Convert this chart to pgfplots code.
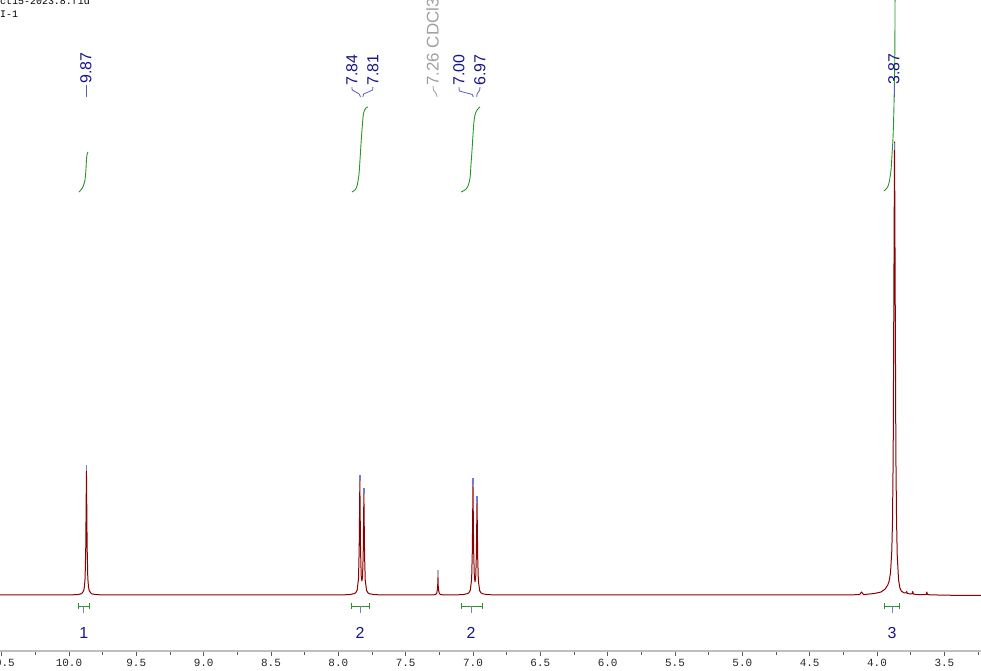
\documentclass[border=0pt]{standalone}
\usepackage{fontspec}
\setmainfont{Liberation Sans}
\setmonofont{Liberation Mono}
\usepackage{pgfplots}
\pgfplotsset{compat=1.18}
\definecolor{specred}{RGB}{139,0,0}
\definecolor{intgreen}{RGB}{40,150,40}
\definecolor{labblue}{RGB}{20,20,140}
\definecolor{conblue}{RGB}{90,90,190}
\definecolor{markblue}{RGB}{120,120,215}
\definecolor{cdgray}{RGB}{160,160,160}
\definecolor{axgray}{RGB}{190,190,190}
\begin{document}
\begin{tikzpicture}
\path[use as bounding box] (0,-20bp) rectangle (981bp,651bp);
\begin{axis}[
  scale only axis, width=981bp, height=651bp,
  at={(0,0)}, anchor=south west,
  x dir=reverse, xmin=3.228, xmax=10.512,
  ymin=-56, ymax=595,
  axis x line=bottom, axis y line=none,
  axis line style={draw=axgray, line width=1.2bp, -},
  xtick distance=0.5, minor x tick num=1,
  tick align=outside,
  major tick length=5bp, minor tick length=4bp,
  every tick/.style={black!65, line width=0.7bp},
  xticklabel={\pgfmathprintnumber[fixed,fixed zerofill,precision=1,assume math mode=true]{\tick}},
  xticklabel style={font=\fontsize{11}{11}\selectfont\ttfamily, text=black!85},
  clip mode=individual,
  every axis plot/.append style={line join=round},
]
% spectrum
\addplot[specred, line width=1bp] coordinates {
(10.512,0) (10.3,0.02) (10.07,0.05) (9.97,0.2) (9.93,0.55) (9.91,1.2) (9.90,2.2) (9.89,4.8) (9.885,8.2) (9.88,17.1) (9.875,48.4) (9.87,124) (9.865,48.4) (9.86,17.1) (9.855,8.2) (9.85,4.8) (9.84,2.2) (9.83,1.2) (9.81,0.55) (9.77,0.2) (9.67,0.05) (9.3,0.02) (8.6,0.02) (8.1,0.05)
(7.95,0.23) (7.91,0.52) (7.88,1.43) (7.87,2.4) (7.86,4.9) (7.85,16.4) (7.845,45.0) (7.84,113.7) (7.835,46.2) (7.83,19.2) (7.825,14.0) (7.82,18.0) (7.815,41.4) (7.81,101) (7.805,40.0) (7.80,14.8) (7.79,4.5) (7.78,2.2) (7.77,1.3) (7.74,0.5) (7.70,0.2) (7.55,0.05)
(7.30,0.1) (7.28,0.4) (7.27,1.5) (7.265,4.8) (7.262,9) (7.26,18) (7.258,9) (7.255,4.8) (7.25,1.5) (7.24,0.4) (7.22,0.1)
(7.11,0.2) (7.07,0.5) (7.04,1.4) (7.03,2.3) (7.02,4.7) (7.01,15.8) (7.005,43.3) (7.00,109.6) (6.995,44.4) (6.99,18.4) (6.985,13.3) (6.98,16.9) (6.975,38.6) (6.97,93.9) (6.965,37.3) (6.96,13.8) (6.95,4.2) (6.94,2.1) (6.93,1.3) (6.90,0.5) (6.86,0.2) (6.7,0.05)
(6.0,0.02) (5.0,0.02) (4.5,0.05) (4.2,0.2) (4.13,0.3) (4.115,3) (4.10,0.4)
(4.02,1.5) (3.97,3) (3.94,6) (3.92,10) (3.91,14) (3.90,22) (3.89,45) (3.885,75) (3.88,140) (3.875,300) (3.87,453) (3.865,300) (3.86,140) (3.855,75) (3.85,40) (3.84,15) (3.83,7) (3.82,4) (3.80,2.2) (3.785,2) (3.78,3.5) (3.775,1.6) (3.76,1.2) (3.74,1.2) (3.735,3.5) (3.73,0.9) (3.70,0.5) (3.66,0.3) (3.635,0.4) (3.63,3) (3.625,0.3) (3.55,0) (3.4,-0.4) (3.228,-0.5)
};
% integrals
\addplot[intgreen, line width=0.9bp, smooth] coordinates {
(9.926,403) (9.911,405) (9.896,408) (9.881,415) (9.874,425) (9.870,435) (9.866,440) (9.859,443)
};
\addplot[intgreen, line width=0.9bp, smooth] coordinates {
(7.899,403) (7.876,405) (7.861,409) (7.847,420) (7.839,435) (7.832,450) (7.824,465) (7.817,477) (7.810,483) (7.795,487) (7.780,488)
};
\addplot[intgreen, line width=0.9bp, smooth] coordinates {
(7.089,403) (7.059,405) (7.037,409) (7.022,417) (7.015,430) (7.007,445) (7.000,460) (6.993,473) (6.985,480) (6.970,485) (6.948,488)
};
\addplot[intgreen, line width=0.9bp, smooth] coordinates {
(3.948,404) (3.926,407) (3.911,412) (3.896,425) (3.889,440) (3.881,458) (3.874,490) (3.868,540) (3.866,600) (3.865,640)
};
% peak markers
\addplot[markblue, line width=1.6bp] coordinates {(9.87,124) (9.87,130)};
\addplot[markblue, line width=1.6bp] coordinates {(7.84,114) (7.84,120)};
\addplot[markblue, line width=1.6bp] coordinates {(7.81,101) (7.81,107)};
\addplot[cdgray!80, line width=1.6bp] coordinates {(7.26,18) (7.26,25)};
\addplot[markblue, line width=1.6bp] coordinates {(7.00,110) (7.00,117)};
\addplot[markblue, line width=1.6bp] coordinates {(6.97,93) (6.97,99)};
\addplot[markblue, line width=1.6bp] coordinates {(3.87,445) (3.87,452)};
% label connectors
\addplot[conblue, line width=0.8bp] coordinates {(9.87,510) (9.87,498)};
\addplot[conblue, line width=0.8bp] coordinates {(7.899,508) (7.897,505) (7.845,501) (7.835,498)};
\addplot[conblue, line width=0.8bp] coordinates {(7.743,508) (7.745,505) (7.812,501) (7.818,498)};
\addplot[cdgray, line width=0.8bp] coordinates {(7.297,509) (7.293,505) (7.272,501) (7.267,498)};
\addplot[conblue, line width=0.8bp] coordinates {(7.104,508) (7.102,504) (7.005,500.5) (6.998,498)};
\addplot[conblue, line width=0.8bp] coordinates {(6.948,508) (6.950,505) (6.970,501) (6.972,498)};
\addplot[conblue, line width=0.8bp] coordinates {(3.868,510) (3.868,498)};
% integral brackets
\addplot[intgreen, line width=0.9bp] coordinates {(9.933,-11) (9.851,-11)};
\addplot[intgreen, line width=0.9bp] coordinates {(9.933,-8) (9.933,-14)};
\addplot[intgreen, line width=0.9bp] coordinates {(9.851,-8) (9.851,-14)};
\addplot[markblue, line width=0.9bp] coordinates {(9.889,-11) (9.889,-18)};
\addplot[intgreen, line width=0.9bp] coordinates {(7.906,-11) (7.772,-11)};
\addplot[intgreen, line width=0.9bp] coordinates {(7.906,-8) (7.906,-14)};
\addplot[intgreen, line width=0.9bp] coordinates {(7.772,-8) (7.772,-14)};
\addplot[markblue, line width=0.9bp] coordinates {(7.839,-11) (7.839,-18)};
\addplot[intgreen, line width=0.9bp] coordinates {(7.089,-11) (6.933,-11)};
\addplot[intgreen, line width=0.9bp] coordinates {(7.089,-8) (7.089,-14)};
\addplot[intgreen, line width=0.9bp] coordinates {(6.933,-8) (6.933,-14)};
\addplot[markblue, line width=0.9bp] coordinates {(7.015,-11) (7.015,-18)};
\addplot[intgreen, line width=0.9bp] coordinates {(3.948,-11) (3.837,-11)};
\addplot[intgreen, line width=0.9bp] coordinates {(3.948,-8) (3.948,-14)};
\addplot[intgreen, line width=0.9bp] coordinates {(3.837,-8) (3.837,-14)};
\addplot[markblue, line width=0.9bp] coordinates {(3.889,-11) (3.889,-18)};
% integral values
\node[labblue, font=\fontsize{16}{16}\selectfont] at (axis cs:9.889,-38) {1};
\node[labblue, font=\fontsize{16}{16}\selectfont] at (axis cs:7.839,-38) {2};
\node[labblue, font=\fontsize{16}{16}\selectfont] at (axis cs:7.015,-38) {2};
\node[labblue, font=\fontsize{16}{16}\selectfont] at (axis cs:3.889,-38) {3};
% peak labels
\node[labblue, rotate=90, anchor=west, inner sep=0pt, font=\fontsize{16}{16}\selectfont] at (axis cs:9.874,511) {9.87};
\node[labblue, rotate=90, anchor=west, inner sep=0pt, font=\fontsize{16}{16}\selectfont] at (axis cs:7.899,509) {7.84};
\node[labblue, rotate=90, anchor=west, inner sep=0pt, font=\fontsize{16}{16}\selectfont] at (axis cs:7.743,509) {7.81};
\node[cdgray, rotate=90, anchor=west, inner sep=0pt, font=\fontsize{17}{17}\selectfont] at (axis cs:7.301,509) {7.26 CDCl3};
\node[labblue, rotate=90, anchor=west, inner sep=0pt, font=\fontsize{16}{16}\selectfont] at (axis cs:7.104,509) {7.00};
\node[labblue, rotate=90, anchor=west, inner sep=0pt, font=\fontsize{16}{16}\selectfont] at (axis cs:6.948,509) {6.97};
\node[labblue, rotate=90, anchor=west, inner sep=0pt, font=\fontsize{16}{16}\selectfont] at (axis cs:3.874,510) {3.87};
% header
\node[anchor=base west, inner sep=0pt, font=\fontsize{10}{10}\selectfont\ttfamily] at (axis cs:10.512,590) {ct15-2023.8.fid};
\node[anchor=base west, inner sep=0pt, font=\fontsize{10}{10}\selectfont\ttfamily] at (axis cs:10.512,577) {I-1};
\end{axis}
\end{tikzpicture}
\end{document}
